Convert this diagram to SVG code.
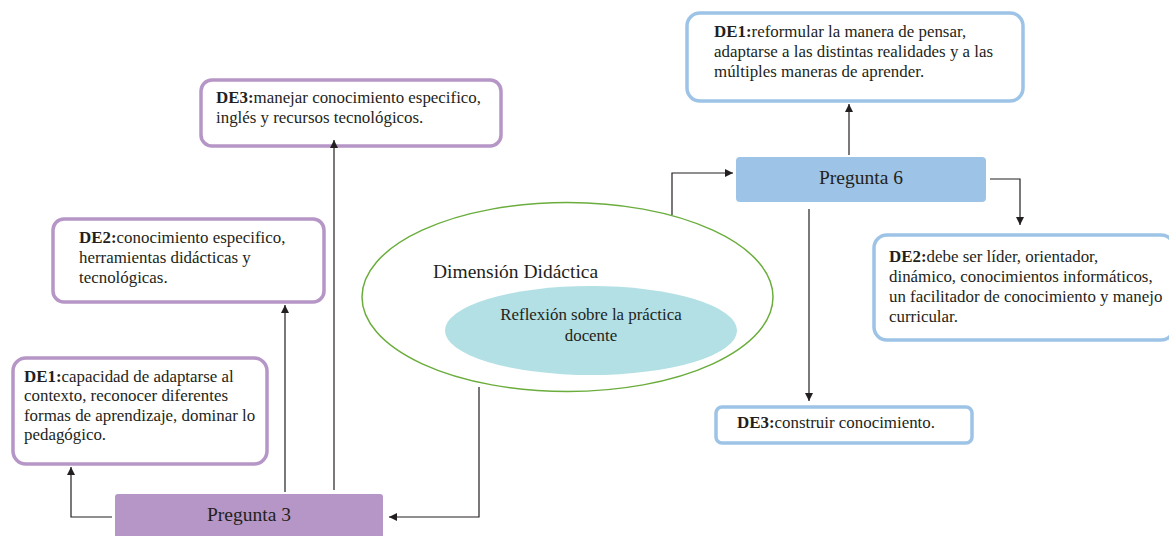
<svg xmlns="http://www.w3.org/2000/svg" width="1169" height="536" viewBox="0 0 1169 536">
<style>
text{font-family:"Liberation Serif","Times New Roman",Times,serif;fill:#231f20}
.t{font-size:16.9px}
.b{font-weight:bold}
.big{font-size:19.5px}
.pbox{fill:#fff;stroke:#b596c6;stroke-width:3.5}
.bbox{fill:#fff;stroke:#9dc3e6;stroke-width:3.5}
.c{fill:none;stroke:#231f20;stroke-width:1.2}
</style>
<defs>
<marker id="ah" viewBox="0 0 10 10" refX="10" refY="5" markerWidth="8" markerHeight="8" markerUnits="userSpaceOnUse" orient="auto">
<path d="M0,0 L10,5 L0,10 z" fill="#231f20"/>
</marker>
</defs>
<rect width="1169" height="536" fill="#fff"/>
<g id="dimension">
<ellipse cx="567.5" cy="297" rx="205.5" ry="94.5" fill="#fff" stroke="#6aad3d" stroke-width="1.5"/>
<text x="433" y="278" class="big">Dimensión Didáctica</text>
</g>
<g id="reflexion">
<ellipse cx="591" cy="330.5" rx="146" ry="44.5" fill="#b3e0e4"/>
<text x="591" y="320" class="t" text-anchor="middle">Reflexión sobre la práctica</text>
<text x="591" y="341" class="t" text-anchor="middle">docente</text>
</g>
<g id="pregunta3">
<rect x="115" y="494" width="268" height="50" rx="3" fill="#b596c6"/>
<text x="249" y="521" text-anchor="middle" class="big">Pregunta 3</text>
</g>
<g id="p3-de3">
<rect class="pbox" x="201" y="80" width="300" height="66" rx="11"/>
<text x="216" y="103" class="t"><tspan class="b">DE3:</tspan>manejar conocimiento especifico,</text>
<text x="216" y="123" class="t">inglés y recursos tecnológicos.</text>
</g>
<g id="p3-de2">
<rect class="pbox" x="53" y="219" width="271" height="83" rx="11"/>
<text x="79" y="243" class="t"><tspan class="b">DE2:</tspan>conocimiento especifico,</text>
<text x="79" y="263" class="t">herramientas didácticas y</text>
<text x="79" y="283" class="t">tecnológicas.</text>
</g>
<g id="p3-de1">
<rect class="pbox" x="13" y="358" width="254" height="106" rx="13"/>
<text x="24" y="382" class="t"><tspan class="b">DE1:</tspan>capacidad de adaptarse al</text>
<text x="24" y="401" class="t">contexto, reconocer diferentes</text>
<text x="24" y="421" class="t">formas de aprendizaje, dominar lo</text>
<text x="24" y="440" class="t">pedagógico.</text>
</g>
<g id="pregunta6">
<rect x="736" y="157" width="250" height="45" rx="4" fill="#9dc3e6"/>
<text x="861" y="184" text-anchor="middle" class="big">Pregunta 6</text>
</g>
<g id="p6-de1">
<rect class="bbox" x="687" y="13" width="336" height="88" rx="13"/>
<text x="714" y="37" class="t"><tspan class="b">DE1:</tspan>reformular la manera de pensar,</text>
<text x="714" y="57" class="t">adaptarse a las distintas realidades y a las</text>
<text x="714" y="77" class="t">múltiples maneras de aprender.</text>
</g>
<g id="p6-de2">
<rect class="bbox" x="874" y="235" width="300" height="105" rx="13"/>
<text x="889" y="262" class="t"><tspan class="b">DE2:</tspan>debe ser líder, orientador,</text>
<text x="889" y="282" class="t">dinámico, conocimientos informáticos,</text>
<text x="889" y="302" class="t">un facilitador de conocimiento y manejo</text>
<text x="889" y="322" class="t">curricular.</text>
</g>
<g id="p6-de3">
<rect class="bbox" x="716" y="407" width="256" height="36" rx="6"/>
<text x="737" y="428" class="t"><tspan class="b">DE3:</tspan>construir conocimiento.</text>
</g>
<g id="connectors">
<path class="c" d="M334,490 V140" marker-end="url(#ah)"/>
<path class="c" d="M285,492 V305" marker-end="url(#ah)"/>
<path class="c" d="M112,517 H71 V467" marker-end="url(#ah)"/>
<path class="c" d="M479,387 V517 H389" marker-end="url(#ah)"/>
<path class="c" d="M672,215 V173 H733" marker-end="url(#ah)"/>
<path class="c" d="M849,155 V104" marker-end="url(#ah)"/>
<path class="c" d="M990,179 H1020 V225" marker-end="url(#ah)"/>
<path class="c" d="M809,209 V401" marker-end="url(#ah)"/>
</g>
</svg>
